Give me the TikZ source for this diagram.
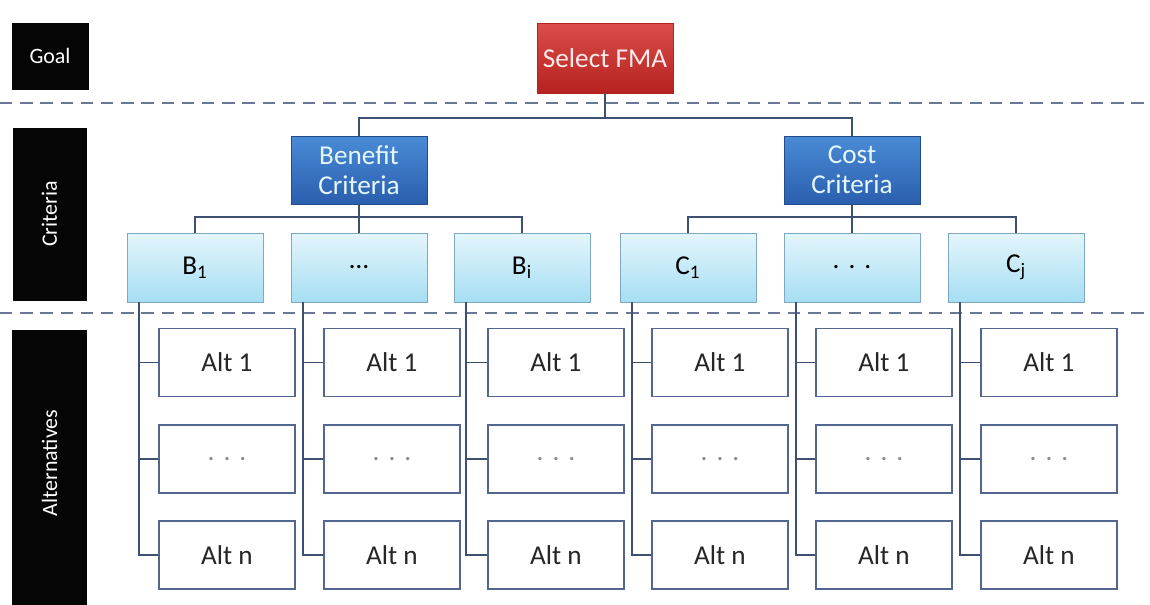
\documentclass[tikz,border=0pt]{standalone}
\usepackage{fontspec}
\setmainfont{Carlito}
\definecolor{tagblack}{HTML}{050505}
\definecolor{goalred}{HTML}{D63A36}
\definecolor{goalreddark}{HTML}{B5221F}
\definecolor{critblue}{HTML}{4A8BD6}
\definecolor{critbluedark}{HTML}{2A5FAE}
\definecolor{subtop}{HTML}{E4F5FC}
\definecolor{subbot}{HTML}{A6DEF3}
\definecolor{subedge}{HTML}{7FA8C2}
\definecolor{altedge}{HTML}{52668F}
\definecolor{linkcol}{HTML}{3D5072}
\definecolor{sepcol}{HTML}{6A7796}

\tikzset{
  tag/.style={fill=tagblack,draw=tagblack,text=white,inner sep=0pt,font=\fontsize{12.5}{14}\selectfont},
  goalbox/.style={draw=goalreddark,top color=goalred!90!white,bottom color=goalreddark,
    text=red!8!white,minimum width=2.72cm,minimum height=1.40cm,inner sep=0pt,
    font=\fontsize{15.5}{17}\selectfont},
  critbox/.style={draw=critbluedark!80!black,top color=critblue,bottom color=critbluedark,
    text=cyan!10!white,minimum width=2.72cm,minimum height=1.36cm,inner sep=0pt,align=center,
    font=\fontsize{15.5}{17}\selectfont},
  subbox/.style={draw=subedge,top color=subtop,bottom color=subbot,
    minimum width=2.72cm,minimum height=1.38cm,inner sep=0pt,
    font=\fontsize{15.5}{17}\selectfont},
  altbox/.style={draw=altedge,line width=1.1pt,fill=white,text=black!85,
    minimum width=2.72cm,minimum height=1.36cm,inner sep=0pt,
    font=\fontsize{15.5}{17}\selectfont},
  link/.style={draw=linkcol,line width=1.1pt},
  sep/.style={draw=sepcol,line width=1.3pt,dash pattern=on 7pt off 4.5pt}
}

\begin{document}
\begin{tikzpicture}[x=0.02cm,y=-0.02cm]
  \useasboundingbox (0,0) rectangle (1150,605);

  % level tags
  \node[tag,minimum width=1.52cm,minimum height=1.32cm] at (50,56) (tgoal) {Goal};
  \node[tag,minimum width=1.46cm,minimum height=3.44cm] at (49.5,214) (tcrit) {};
  \node[rotate=90,text=white,font=\fontsize{12.5}{14}\selectfont] at (tcrit) (tcritlbl) {Criteria};
  \node[tag,minimum width=1.48cm,minimum height=5.50cm] at (49.5,467.5) (talt) {};
  \node[rotate=90,text=white,font=\fontsize{12.5}{14}\selectfont] at (49.5,463) (taltlbl) {Alternatives};

  % separators
  \draw[sep] (0,103) -- (1150,103);
  \draw[sep] (0,313) -- (1150,313);

  % goal
  \node[goalbox] at (605,58) (fma) {Select FMA};

  % criteria
  \node[critbox] at (359,170) (ben) {Benefit\\Criteria};
  \node[critbox] at (852,170) (cost) {Cost\\Criteria};
  \path[link] (fma.south) -- ++(0,25) -| (ben.north);
  \path[link] (fma.south) -- ++(0,25) -| (cost.north);

  % sub-criteria
  \node[subbox] at (195,267.5) (b1) {B\textsubscript{1}};
  \node[subbox] at (359,267.5) (bdots) {\ldots};
  \node[subbox] at (522,267.5) (bi) {B\textsubscript{i}};
  \node[subbox] at (688,267.5) (c1) {C\textsubscript{1}};
  \node[subbox] at (852,267.5) (cdots) {.\,\,.\,\,.};
  \node[subbox] at (1016,267.5) (cj) {C\textsubscript{j}};
  \path[link] (ben.south) -- ++(0,13) -| (b1.north);
  \path[link] (ben.south) -- (bdots.north);
  \path[link] (ben.south) -- ++(0,13) -| (bi.north);
  \path[link] (cost.south) -- ++(0,13) -| (c1.north);
  \path[link] (cost.south) -- (cdots.north);
  \path[link] (cost.south) -- ++(0,13) -| (cj.north);

  % alternatives
  \node[altbox] at (227,362.5) (b1a1) {Alt 1};
  \node[altbox,text=black!45] at (227,459) (b1ad) {.\,\,.\,\,.};
  \node[altbox] at (227,555) (b1an) {Alt n};
  \node[altbox] at (392,362.5) (bda1) {Alt 1};
  \node[altbox,text=black!45] at (392,459) (bdad) {.\,\,.\,\,.};
  \node[altbox] at (392,555) (bdan) {Alt n};
  \node[altbox] at (556,362.5) (bia1) {Alt 1};
  \node[altbox,text=black!45] at (556,459) (biad) {.\,\,.\,\,.};
  \node[altbox] at (556,555) (bian) {Alt n};
  \node[altbox] at (720,362.5) (c1a1) {Alt 1};
  \node[altbox,text=black!45] at (720,459) (c1ad) {.\,\,.\,\,.};
  \node[altbox] at (720,555) (c1an) {Alt n};
  \node[altbox] at (884,362.5) (cda1) {Alt 1};
  \node[altbox,text=black!45] at (884,459) (cdad) {.\,\,.\,\,.};
  \node[altbox] at (884,555) (cdan) {Alt n};
  \node[altbox] at (1049,362.5) (cja1) {Alt 1};
  \node[altbox,text=black!45] at (1049,459) (cjad) {.\,\,.\,\,.};
  \node[altbox] at (1049,555) (cjan) {Alt n};

  \path[link] ([xshift=12*0.02cm]b1.south west) |- (b1an.west);
  \path[link] (b1a1.west) -- ++(-20,0);
  \path[link] (b1ad.west) -- ++(-20,0);
  \path[link] ([xshift=12*0.02cm]bdots.south west) |- (bdan.west);
  \path[link] (bda1.west) -- ++(-20,0);
  \path[link] (bdad.west) -- ++(-20,0);
  \path[link] ([xshift=12*0.02cm]bi.south west) |- (bian.west);
  \path[link] (bia1.west) -- ++(-20,0);
  \path[link] (biad.west) -- ++(-20,0);
  \path[link] ([xshift=12*0.02cm]c1.south west) |- (c1an.west);
  \path[link] (c1a1.west) -- ++(-20,0);
  \path[link] (c1ad.west) -- ++(-20,0);
  \path[link] ([xshift=12*0.02cm]cdots.south west) |- (cdan.west);
  \path[link] (cda1.west) -- ++(-20,0);
  \path[link] (cdad.west) -- ++(-20,0);
  \path[link] ([xshift=12*0.02cm]cj.south west) |- (cjan.west);
  \path[link] (cja1.west) -- ++(-20,0);
  \path[link] (cjad.west) -- ++(-20,0);
\end{tikzpicture}
\end{document}
